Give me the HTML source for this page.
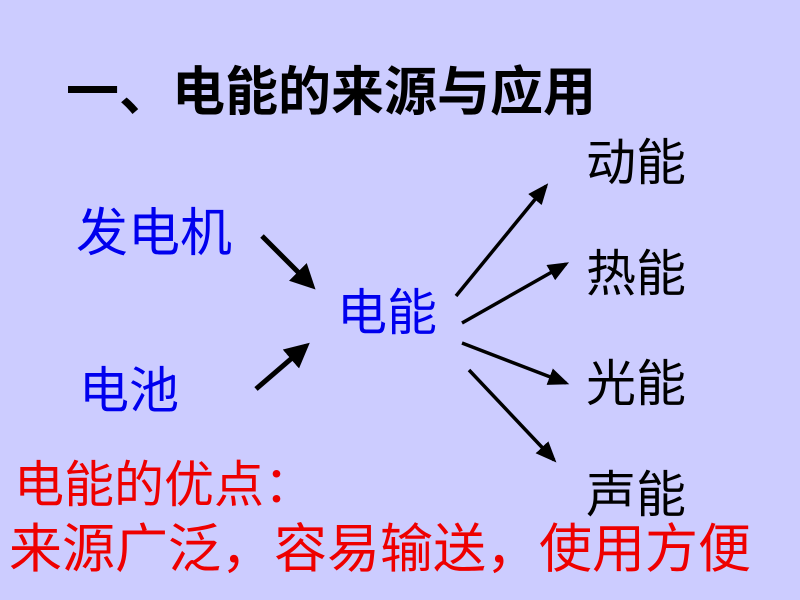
<!DOCTYPE html>
<html><head><meta charset="utf-8"><style>
body{margin:0;width:800px;height:600px;background:#CCCCFF;position:relative;overflow:hidden;font-family:"Liberation Sans","Noto Sans CJK SC",sans-serif;}
.t{position:absolute;white-space:nowrap;line-height:1;}
</style></head><body>
<div class="t" style="left:66px;top:66px;font-size:53px;font-weight:bold;color:#000">一、电能的来源与应用</div>
<div class="t" style="left:76px;top:208px;font-size:52px;color:#0000EE">发电机</div>
<div class="t" style="left:79px;top:366px;font-size:50px;color:#0000EE">电池</div>
<div class="t" style="left:337px;top:288px;font-size:50px;color:#0000EE">电能</div>
<div class="t" style="left:586px;top:138px;font-size:50px;color:#000">动能</div>
<div class="t" style="left:586px;top:249px;font-size:50px;color:#000">热能</div>
<div class="t" style="left:586px;top:359px;font-size:50px;color:#000">光能</div>
<div class="t" style="left:586px;top:470px;font-size:50px;color:#000">声能</div>
<div class="t" style="left:14px;top:460px;font-size:50px;color:#EE0000">电能的优点：</div>
<div class="t" style="left:9px;top:523px;font-size:53px;color:#EE0000">来源广泛，容易输送，使用方便</div>
<svg width="800" height="600" style="position:absolute;left:0;top:0">
<defs>
<marker id="a" markerWidth="5" markerHeight="5" refX="4" refY="2.5" orient="auto" markerUnits="strokeWidth"><path d="M0,0 L5,2.5 L0,5 Z" fill="#000"/></marker>
<marker id="b" markerWidth="6" markerHeight="5" refX="5" refY="2.5" orient="auto" markerUnits="strokeWidth"><path d="M0,0 L6,2.5 L0,5 Z" fill="#000"/></marker>
</defs>
<g stroke="#000" fill="none">
<line x1="262" y1="236" x2="312" y2="286" stroke-width="5" marker-end="url(#a)"/>
<line x1="256" y1="389" x2="306" y2="346" stroke-width="5" marker-end="url(#a)"/>
<line x1="456" y1="296" x2="546" y2="186" stroke-width="3.5" marker-end="url(#b)"/>
<line x1="462" y1="323" x2="566" y2="264" stroke-width="3.5" marker-end="url(#b)"/>
<line x1="462" y1="343" x2="566" y2="383" stroke-width="3.5" marker-end="url(#b)"/>
<line x1="469" y1="370" x2="554" y2="460" stroke-width="3.5" marker-end="url(#b)"/>
</g>
</svg>
</body></html>
